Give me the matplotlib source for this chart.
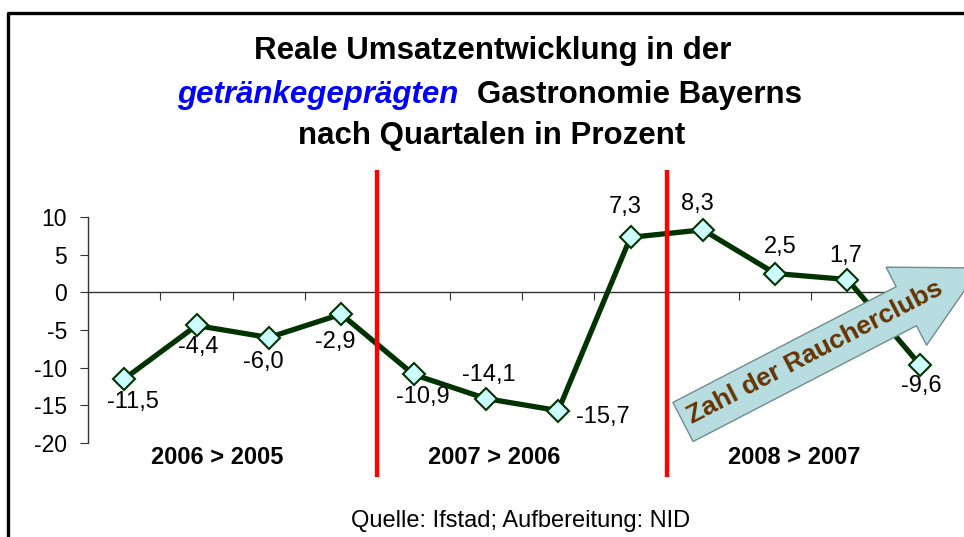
############### IMPORT DEPENDENCIES & SET FORMATS ###############
import numpy as np
import matplotlib.pyplot as plt
from matplotlib.patches import FancyArrow

plt.rcParams['font.family'] = ['Liberation Sans', 'DejaVu Sans']
plt.rcParams['axes.unicode_minus'] = False

############### DATA ###############
quarters = ['Q1 2006', 'Q2 2006', 'Q3 2006', 'Q4 2006',
            'Q1 2007', 'Q2 2007', 'Q3 2007', 'Q4 2007',
            'Q1 2008', 'Q2 2008', 'Q3 2008', 'Q4 2008']
values = [-11.5, -4.4, -6.0, -2.9, -10.9, -14.1, -15.7, 7.3, 8.3, 2.5, 1.7, -9.6]
group_labels = ['2006 > 2005', '2007 > 2006', '2008 > 2007']
y_ticks = [-20, -15, -10, -5, 0, 5, 10]

# layout helpers (pixel offsets of the value labels, group label x positions)
label_offsets = [(9, -23), (2, -22), (-6, -24), (-6, -28), (9, -23), (3, 24),
                 (45, -6), (-5, 30), (-5, 26), (5, 26), (-2, 24), (1, -21)]
group_x = [1.28, 5.12, 9.26]
year_breaks = [3.5, 7.5]

W, H = 964, 537

############### FIGURE ###############
fig = plt.figure(figsize=(W / 100, H / 100), dpi=100)
ax = fig.add_axes([88 / W, 94 / H, 868 / W, 226 / H])
ax.patch.set_alpha(0)

x = np.arange(len(quarters))
ax.plot(x, values, color='#003300', lw=3.8, zorder=3, clip_on=False)
ax.plot(x, values, ls='none', marker='D', ms=11, mfc='#CCFFFF', mec='#003300',
        mew=1.5, zorder=5, clip_on=False)
ax.vlines(year_breaks, -24.5, 16.3, color='#FF0000', lw=3.2, zorder=4, clip_on=False)

ax.set_xlim(-0.5, len(quarters) - 0.5)
ax.set_ylim(-20, 10)
for s in ['top', 'right']:
    ax.spines[s].set_visible(False)
ax.spines['bottom'].set_position(('data', 0))
for s in ['bottom', 'left']:
    ax.spines[s].set_color('#333333')
    ax.spines[s].set_linewidth(1)
ax.set_xticks(np.arange(0.5, len(quarters) - 1, 1))
ax.set_xticklabels([])
ax.tick_params(axis='x', direction='out', length=6, color='#333333')
ax.set_yticks(y_ticks)
ax.tick_params(axis='y', direction='out', length=6, color='#333333', pad=9,
               labelsize=16.5)

############### VALUE LABELS ###############
for xi, v, off in zip(x, values, label_offsets):
    ax.annotate('{:.1f}'.format(v).replace('.', ','), (xi, v), xytext=off,
                textcoords='offset pixels', ha='center', va='center', fontsize=17)

for gx, lab in zip(group_x, group_labels):
    ax.text(gx, -21.9, lab, ha='center', va='center', fontsize=17, fontweight='bold')

############### TITLE & SOURCE ###############
def px(xp, yp):
    return xp / W, 1 - yp / H

fig.text(*px(493, 51), 'Reale Umsatzentwicklung in der', ha='center', va='center',
         fontsize=22.5, fontweight='bold')
fig.text(*px(458, 95), 'getränkegeprägten', ha='right', va='center', fontsize=22.5,
         fontweight='bold', style='italic', color='#0000FF')
fig.text(*px(477, 95), 'Gastronomie Bayerns', ha='left', va='center', fontsize=22.5,
         fontweight='bold')
fig.text(*px(492, 136), 'nach Quartalen in Prozent', ha='center', va='center',
         fontsize=22.5, fontweight='bold')
fig.text(*px(521, 521), 'Quelle: Ifstad; Aufbereitung: NID', ha='center', va='center',
         fontsize=17)

############### OVERLAY: FRAME + ARROW ###############
ov = fig.add_axes([0, 0, 1, 1])
ov.set_xlim(0, W)
ov.set_ylim(H, 0)
ov.axis('off')
ov.patch.set_alpha(0)
ov.set_zorder(5)

ov.plot([8, 8, W + 10], [H + 10, 13, 13], color='black', lw=2.4, clip_on=False)

arrow = FancyArrow(683, 422, 297, -154, width=44, head_width=88, head_length=83,
                   length_includes_head=True, fc='#B7DDE0', ec='#708C8E', lw=1)
ov.add_patch(arrow)
ov.text(815, 352, 'Zahl der Raucherclubs', rotation=27.4, rotation_mode='anchor',
        ha='center', va='center', fontsize=19, fontweight='bold', color='#663300')

fig.savefig('out.png', dpi=100)
